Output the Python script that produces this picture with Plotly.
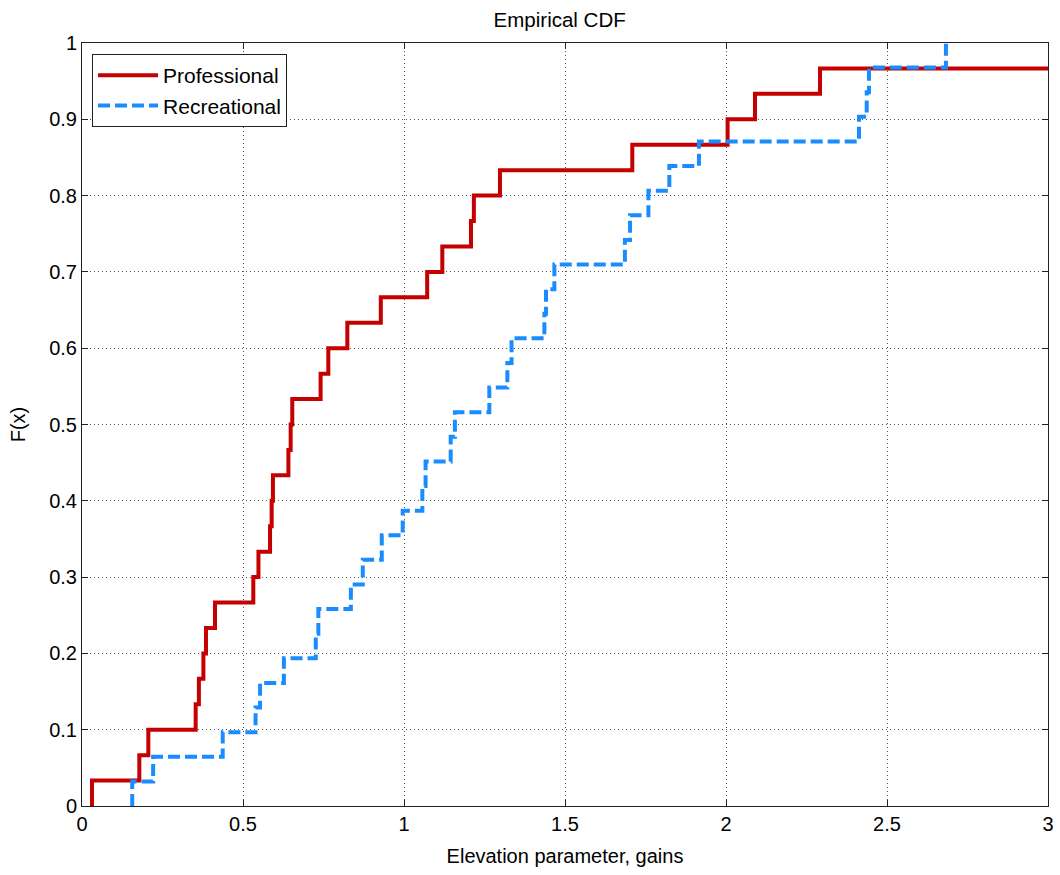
import plotly.graph_objects as go

# Sample values (step locations)
professional = [0.031, 0.178, 0.206, 0.353, 0.363, 0.377, 0.385, 0.413, 0.532, 0.548,
                0.584, 0.589, 0.593, 0.641, 0.648, 0.653, 0.741, 0.765, 0.824, 0.928,
                1.072, 1.119, 1.208, 1.217, 1.298, 1.709, 2.005, 2.090, 2.292, 3.400]
recreational = [0.156, 0.221, 0.437, 0.539, 0.553, 0.627, 0.726, 0.734, 0.835, 0.872,
                0.931, 0.996, 1.057, 1.067, 1.145, 1.158, 1.265, 1.321, 1.334, 1.436,
                1.441, 1.467, 1.686, 1.702, 1.759, 1.824, 1.916, 2.413, 2.437, 2.444,
                2.683]

series_names = ["Professional", "Recreational"]
x_ticks = [0, 0.5, 1, 1.5, 2, 2.5, 3]
y_ticks = [0, 0.1, 0.2, 0.3, 0.4, 0.5, 0.6, 0.7, 0.8, 0.9, 1]


def ecdf(sample):
    s = sorted(sample)
    n = len(s)
    xs = [s[0]] + s
    ys = [0.0] + [(i + 1) / n for i in range(n)]
    return xs, ys


FONT = "Liberation Sans, Helvetica, Arial, sans-serif"

fig = go.Figure()
px_, py_ = ecdf(professional)
fig.add_trace(go.Scatter(x=px_, y=py_, mode="lines", line_shape="hv",
                         name=series_names[0],
                         line=dict(color="#c40000", width=4)))
rx_, ry_ = ecdf(recreational)
fig.add_trace(go.Scatter(x=rx_, y=ry_, mode="lines", line_shape="hv",
                         name=series_names[1],
                         line=dict(color="#1a8cff", width=4, dash="12px,5px")))

axis_common = dict(
    showline=True, linecolor="#222", linewidth=1, mirror="ticks",
    ticks="inside", ticklen=6, tickcolor="#222", tickwidth=1,
    showgrid=True, gridcolor="#555", griddash="1px,3px", gridwidth=1,
    zeroline=False, automargin=False,
    tickfont=dict(family=FONT, size=20, color="black"),
)

fig.update_layout(
    width=1060, height=875,
    margin=dict(l=82, r=12, t=43, b=69),
    paper_bgcolor="white", plot_bgcolor="white",
    font=dict(family=FONT, color="black"),
    title=dict(text="Empirical CDF", x=0.528, xanchor="center", y=0.977, yanchor="middle",
               font=dict(family=FONT, size=20.5, color="black")),
    xaxis=dict(range=[0, 3], tickvals=x_ticks, ticktext=[f"{v:g}" for v in x_ticks],
               title=dict(text="Elevation parameter, gains", font=dict(family=FONT, size=20), standoff=14),
               **axis_common),
    yaxis=dict(range=[0, 1], tickvals=y_ticks, ticktext=[f"{v:g}" for v in y_ticks],
               title=dict(text="F(x)", font=dict(family=FONT, size=20), standoff=18),
               **axis_common),
    legend=dict(x=0.0104, y=0.9856, xanchor="left", yanchor="top",
                bgcolor="white", bordercolor="#222", borderwidth=1,
                font=dict(family=FONT, size=21, color="black"),
                tracegroupgap=0, itemwidth=60),
    showlegend=True,
)

fig.write_html("out.html")
